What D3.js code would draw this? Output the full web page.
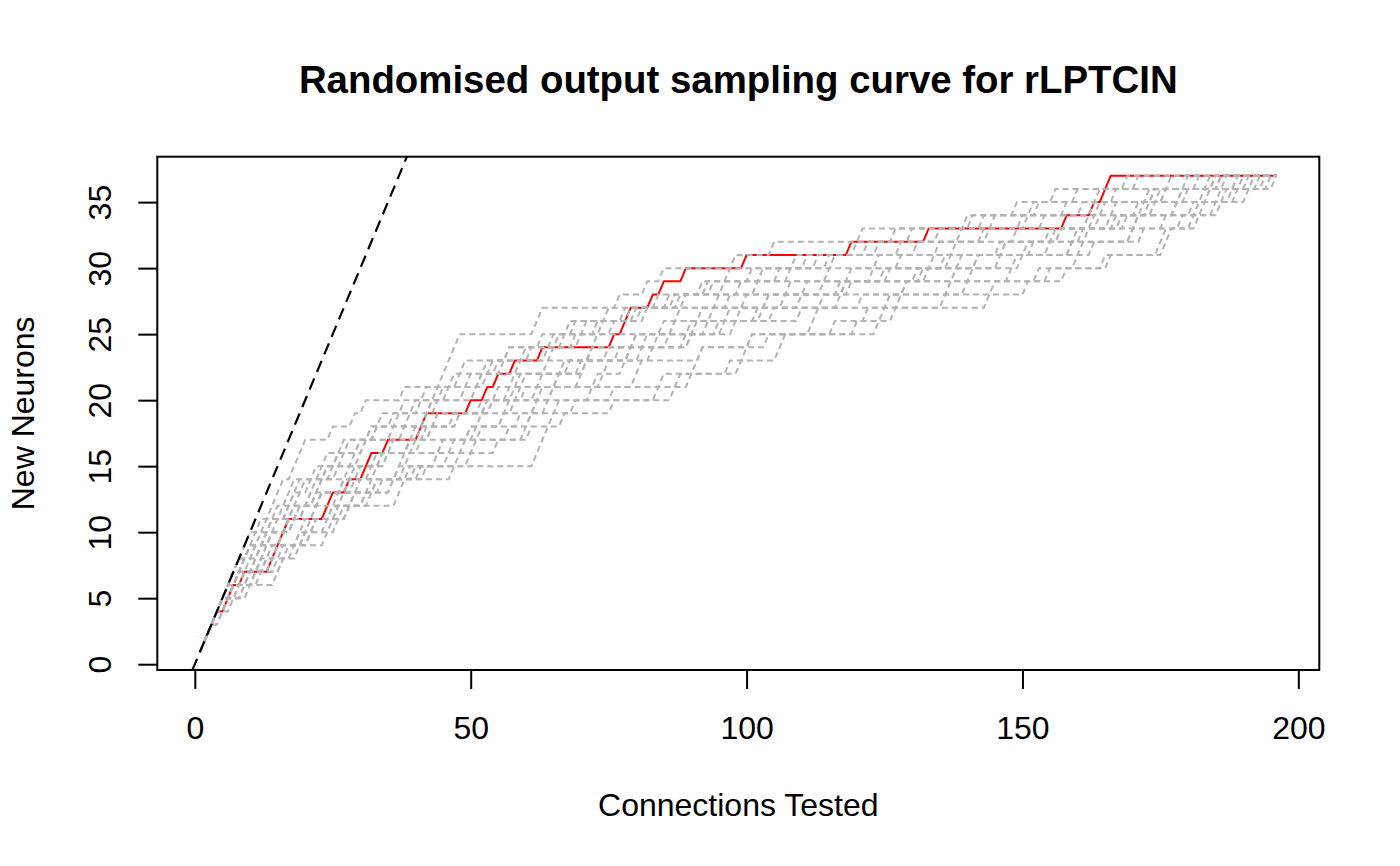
<!DOCTYPE html>
<html>
<head>
<meta charset="utf-8">
<script src="https://cdn.jsdelivr.net/npm/d3@7"></script>
<style>
  html, body { margin: 0; padding: 0; background: #ffffff; }
  svg { display: block; }
  text { font-family: "Liberation Sans", Arial, Helvetica, sans-serif; fill: #000; }
</style>
</head>
<body>
<svg id="chart" width="1400" height="866"></svg>
<script>
// ---------------- data ----------------
const chartTitle = "Randomised output sampling curve for rLPTCIN";
const xAxisLabel = "Connections Tested";
const yAxisLabel = "New Neurons";
const xTickValues = [0, 50, 100, 150, 200];
const yTickValues = [0, 5, 10, 15, 20, 25, 30, 35];
const connectionsTested = 196;      // connections per curve
const totalNewNeurons = 37;

// Each curve: runs of [first connection index, number of consecutive new neurons found]
const observedRuns = [[1,4],[6,2],[9,1],[14,4],[24,2],[28,1],[31,2],[35,1],[41,2],[50,1],[53,1],[55,1],[58,1],[63,1],[76,1],[78,2],[83,1],[85,1],[89,1],[100,1],[119,1],[133,1],[158,1],[163,1],[165,2]];

const rand01 = [[1,4],[6,2],[15,3],[24,3],[37,2],[47,1],[62,5],[84,1],[90,1],[99,3],[124,2],[144,1],[151,1],[155,1],[165,1],[176,2],[182,1],[186,1],[191,1],[196,1]];
const rand02 = [[1,10],[12,1],[14,3],[18,3],[25,1],[29,1],[31,1],[38,1],[45,4],[62,2],[77,1],[82,1],[85,1],[98,1],[105,1],[121,1],[141,1],[153,1],[156,1],[169,1]];
const rand03 = [[1,5],[7,2],[11,3],[18,2],[23,1],[27,2],[34,1],[39,2],[47,1],[54,2],[63,1],[71,2],[84,1],[95,1],[103,2],[117,1],[131,1],[146,1],[159,2],[171,1],[178,2],[189,1]];
const rand04 = [[1,7],[9,2],[13,2],[17,3],[24,1],[27,2],[33,1],[37,2],[44,1],[50,1],[56,2],[66,1],[74,2],[87,1],[93,1],[108,1],[115,1],[128,1],[139,1],[150,1],[161,1],[175,1],[184,1]];
const rand05 = [[1,4],[6,1],[9,2],[15,2],[21,2],[28,1],[32,2],[41,1],[46,2],[57,1],[61,2],[72,1],[80,2],[92,1],[101,1],[112,2],[126,1],[137,1],[148,2],[163,1],[170,2],[181,1],[187,1],[193,1]];
const rand06 = [[1,6],[8,3],[14,1],[17,2],[22,2],[30,1],[35,2],[43,2],[52,1],[59,2],[68,1],[77,1],[86,2],[99,1],[110,1],[118,1],[125,1],[136,1],[147,1],[157,1],[166,2],[176,1],[186,1]];
const rand07 = [[1,5],[7,3],[12,2],[18,1],[20,3],[26,1],[29,2],[36,1],[42,2],[49,1],[53,2],[64,2],[73,1],[79,1],[88,1],[94,1],[97,1],[109,1],[122,1],[130,1],[143,1],[152,1],[164,1],[177,1]];
const rand08 = [[1,3],[5,3],[11,2],[15,3],[25,1],[29,2],[38,2],[45,1],[51,2],[58,1],[65,1],[70,2],[81,1],[90,1],[96,2],[107,1],[119,1],[132,1],[142,1],[151,1],[156,1],[168,1],[174,1],[183,1],[190,1]];
const rand09 = [[1,4],[7,1],[10,2],[16,1],[19,2],[26,2],[31,1],[36,2],[48,1],[55,1],[60,2],[69,1],[76,1],[85,1],[91,2],[104,1],[116,1],[127,2],[140,1],[153,1],[160,2],[172,1],[179,1],[185,2],[194,1]];
const rand10 = [[1,8],[10,1],[13,3],[19,2],[23,2],[30,1],[33,2],[40,1],[46,2],[55,1],[61,1],[67,2],[78,1],[84,1],[92,1],[101,1],[113,1],[124,1],[135,1],[145,1],[158,1],[167,1],[180,1]];
const rand11 = [[1,5],[8,2],[13,2],[20,3],[27,1],[33,1],[37,3],[50,1],[56,1],[62,2],[74,2],[83,1],[89,2],[102,1],[121,1],[129,1],[138,2],[155,1],[162,1],[169,1],[178,1],[188,2]];
const rand12 = [[1,6],[8,2],[11,3],[17,2],[21,1],[25,2],[31,2],[39,1],[44,2],[52,2],[60,1],[69,1],[76,1],[82,1],[95,1],[99,1],[106,1],[116,1],[131,1],[144,1],[154,1],[165,1],[173,1],[182,1]];
const rand13 = [[1,4],[6,2],[10,1],[13,2],[19,2],[25,2],[34,1],[40,1],[44,2],[52,1],[56,2],[62,1],[66,2],[75,1],[80,1],[87,2],[97,1],[108,1],[123,1],[134,1],[147,1],[157,1],[164,1],[173,2],[185,1]];
const rand14 = [[1,6],[9,1],[12,3],[18,1],[22,2],[28,2],[35,1],[41,2],[48,1],[54,1],[58,2],[70,1],[79,2],[93,1],[105,1],[114,1],[129,1],[141,1],[150,1],[159,1],[170,1],[176,1],[183,2],[192,1]];
const rand15 = [[1,7],[10,2],[14,2],[19,1],[22,3],[30,2],[38,1],[42,2],[51,2],[59,1],[65,1],[70,2],[81,1],[86,1],[96,1],[103,1],[111,1],[120,1],[127,1],[140,1],[149,1],[160,1],[171,1]];
const rand16 = [[1,5],[8,1],[12,2],[18,2],[24,1],[28,2],[36,1],[42,1],[50,2],[61,1],[67,1],[76,1],[87,2],[97,1],[106,2],[120,1],[122,1],[136,1],[145,1],[158,1],[166,1],[175,2],[181,2],[189,1],[195,1]];
const rand17 = [[1,6],[8,1],[11,2],[16,2],[20,2],[27,1],[32,2],[39,1],[43,2],[53,1],[57,2],[64,1],[72,2],[85,1],[94,1],[100,1],[111,1],[119,1],[128,1],[138,1],[149,1],[162,2],[174,1],[187,1]];
const rand18 = [[1,3],[5,2],[9,2],[14,2],[21,2],[26,1],[31,2],[39,1],[44,1],[49,2],[59,1],[64,2],[73,1],[78,2],[90,1],[98,1],[110,1],[117,2],[133,1],[142,1],[152,1],[161,1],[167,1],[172,1],[179,1],[191,1]];
const rand19 = [[1,5],[7,2],[12,2],[16,3],[23,1],[29,1],[33,2],[40,2],[48,1],[53,1],[60,1],[66,1],[71,2],[82,1],[91,2],[104,1],[114,1],[126,1],[137,1],[146,1],[155,1],[163,1],[171,1],[180,1],[186,1]];
const rand20 = [[1,8],[10,2],[14,1],[16,3],[22,1],[26,2],[32,1],[36,1],[41,2],[48,2],[57,1],[63,1],[69,1],[80,1],[89,1],[102,1],[115,1],[124,1],[135,1],[143,1],[151,1],[164,1],[176,1],[185,1]];

const randomisedRuns = [rand01, rand02, rand03, rand04, rand05, rand06, rand07, rand08, rand09, rand10,
                        rand11, rand12, rand13, rand14, rand15, rand16, rand17, rand18, rand19, rand20];

// reference line (abline): New Neurons = Connections Tested
const refIntercept = 0;
const refSlope = 1;

// ---------------- layout ----------------
const W = 1400, H = 866;
const plotLeft = 157.3, plotRight = 1319.3, plotTop = 156.7, plotBottom = 670;
const lineH = 38.4;          // one margin line in px
const tickLen = 19;

// cumulative new neurons for connections 1..N from runs
function toSeries(runs) {
  const hits = new Set(runs.flatMap(([s, n]) => d3.range(s, s + n)));
  let c = 0;
  return d3.range(1, connectionsTested + 1).map(i => { if (hits.has(i)) c++; return [i, c]; });
}

// R style 4% range extension
function rExtend(lo, hi) { const d = (hi - lo) * 0.04; return [lo - d, hi + d]; }

const xDomain = rExtend(1, connectionsTested);
const yDomain = rExtend(1, totalNewNeurons);

const x = d3.scaleLinear().domain(xDomain).range([plotLeft, plotRight]);
const y = d3.scaleLinear().domain(yDomain).range([plotBottom, plotTop]);

const svg = d3.select("#chart");
svg.append("rect").attr("width", W).attr("height", H).attr("fill", "#fff");

svg.append("defs").append("clipPath").attr("id", "plotClip")
  .append("rect").attr("x", plotLeft).attr("y", plotTop)
  .attr("width", plotRight - plotLeft).attr("height", plotBottom - plotTop);

const line = d3.line().x(d => x(d[0])).y(d => y(d[1]));

// observed curve (red)
svg.append("path")
  .datum(toSeries(observedRuns))
  .attr("d", line)
  .attr("fill", "none")
  .attr("stroke", "#ff0000")
  .attr("stroke-width", 2)
  .attr("stroke-linejoin", "round");

// randomised curves (grey dashed)
svg.append("g").selectAll("path")
  .data(randomisedRuns.map(toSeries))
  .join("path")
  .attr("d", line)
  .attr("fill", "none")
  .attr("stroke", "#b3b3b3")
  .attr("stroke-width", 2)
  .attr("stroke-dasharray", "6,4");

// reference line
const refPts = [yDomain[0], yDomain[1]].map(v => [(v - refIntercept) / refSlope, v]);
svg.append("path")
  .datum(refPts)
  .attr("d", line)
  .attr("clip-path", "url(#plotClip)")
  .attr("fill", "none")
  .attr("stroke", "#000")
  .attr("stroke-width", 2.2)
  .attr("stroke-dasharray", "12,7");

// axes
const xAxis = d3.axisBottom(x).tickValues(xTickValues).tickSize(tickLen).tickPadding(0).tickFormat(d3.format("d"));
const gx = svg.append("g").attr("transform", `translate(0,${plotBottom})`).call(xAxis);
gx.select(".domain").remove();
gx.selectAll(".tick line").attr("stroke", "#000").attr("stroke-width", 2);
gx.selectAll(".tick text")
  .attr("y", 1.8 * lineH).attr("dy", null)
  .style("font-size", "32px").style("font-family", '"Liberation Sans", Arial, sans-serif');

const yAxis = d3.axisLeft(y).tickValues(yTickValues).tickSize(tickLen).tickPadding(0).tickFormat(d3.format("d"));
const gy = svg.append("g").attr("transform", `translate(${plotLeft},0)`).call(yAxis);
gy.select(".domain").remove();
gy.selectAll(".tick line").attr("stroke", "#000").attr("stroke-width", 2);
gy.selectAll(".tick text")
  .attr("x", null).attr("dy", null)
  .attr("text-anchor", "middle")
  .attr("transform", `translate(${-1.2 * lineH},0) rotate(-90)`)
  .style("font-size", "32px").style("font-family", '"Liberation Sans", Arial, sans-serif');

// box
svg.append("rect")
  .attr("x", plotLeft).attr("y", plotTop)
  .attr("width", plotRight - plotLeft).attr("height", plotBottom - plotTop)
  .attr("fill", "none").attr("stroke", "#000").attr("stroke-width", 2);

// titles
const cx = (plotLeft + plotRight) / 2, cy = (plotTop + plotBottom) / 2;
svg.append("text").attr("x", cx).attr("y", 93)
  .attr("text-anchor", "middle").style("font-size", "38.4px").style("font-weight", "bold")
  .text(chartTitle);
svg.append("text").attr("x", cx).attr("y", plotBottom + 3.8 * lineH)
  .attr("text-anchor", "middle").style("font-size", "32px")
  .text(xAxisLabel);
svg.append("text")
  .attr("transform", `translate(${plotLeft - 3.2 * lineH},${cy}) rotate(-90)`)
  .attr("text-anchor", "middle").style("font-size", "32px")
  .text(yAxisLabel);
</script>
</body>
</html>
